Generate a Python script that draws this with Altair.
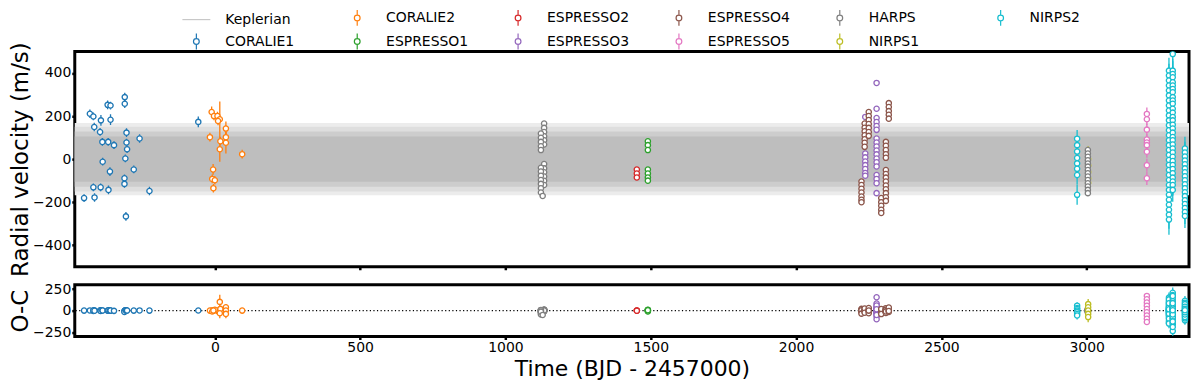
import altair as alt
import pandas as pd

# ---------------- legend / colours ----------------
legend_order = ["Keplerian", "CORALIE2", "ESPRESSO2", "ESPRESSO4", "HARPS", "NIRPS2",
                "CORALIE1", "ESPRESSO1", "ESPRESSO3", "ESPRESSO5", "NIRPS1"]
legend_colors = ["#c8c8c8", "#ff7f0e", "#d62728", "#8c564b", "#7f7f7f", "#17becf",
                 "#1f77b4", "#2ca02c", "#9467bd", "#e377c2", "#bcbd22"]
ERRBAR = "M0,-1L0,-0.36M0,0.36L0,1M0.36,0A0.36,0.36 0 1,1 -0.36,0A0.36,0.36 0 1,1 0.36,0"
LINE = "M-1.75,0L1.75,0"
legend_shapes = [LINE] + [ERRBAR] * 10

# ---------------- Keplerian envelope (band levels, m/s) ----------------
kep_span = [-482, 3352]
kep_levels = ["edge", "outer", "mid", "core"]
kep_half = [168, 150, 128, 105]
kep_shades = ["#ececec", "#dedede", "#cdcdcd", "#bebebe"]

# ---------------- RV data ----------------
CORALIE1_t = [-450, -430, -418, -415, -418, -414, -395, -392, -393, -387, -386, -369, -367, -366,
              -361, -359, -359, -347, -310, -310, -308, -311, -311, -306, -304, -304, -302, -279,
              -259, -225, -57]
CORALIE1_rv = [-181, 211, 198, 149, -131, -178, 126, 180, -131, 80, -12, 252, 80, -143,
               -58, 249, 183, 65, 288, 257, 3, -89, -115, -266, 123, 77, 46, -48,
               96, -148, 173]
CORALIE1_err = [18, 20, 18, 20, 18, 20, 18, 25, 18, 18, 18, 20, 18, 20,
                20, 18, 25, 18, 20, 20, 18, 18, 18, 20, 20, 18, 18, 18,
                20, 20, 25]
CORALIE1_oc = [0, 2, -3, 5, 0, -2, 3, 0, -4, 2, 1, 0, -2, 3,
               -1, 2, 0, -3, 1, 0, 2, -10, -15, 0, 3, -2, 1, 0,
               2, 0, 1]

CORALIE2_t = [-11, -3, 9, 17, 11, -17, 19, 17, 38, 38, 38, -6, -9, 0, -5, 94]
CORALIE2_rv = [219, 200, 200, 185, 177, 102, 83, 46, 142, 102, 76, -48, -92, -98, -135, 23]
CORALIE2_err = [25, 20, 20, 83, 20, 20, 20, 58, 33, 25, 50, 25, 20, 20, 20, 20]
CORALIE2_oc = [0, 5, -5, 101, 0, 0, 20, -30, 38, 0, -38, 0, -10, 10, 0, 0]

HARPS_t = [1133, 1133, 1133, 1133, 1133, 1133, 1122, 1122, 1122, 1122, 1122,
           1133, 1133, 1133, 1133, 1133, 1133, 1122, 1122, 1122, 1122, 1122, 1122, 1122, 1128,
           3004, 3004, 3004, 3004, 3004, 3004, 3004, 3004, 3004, 3004, 3004, 3004, 3004, 3004]
HARPS_rv = [165, 145, 126, 106, 88, 68, 119, 99, 80, 60, 42,
            -23, -43, -61, -81, -101, -120, -40, -58, -77, -97, -115, -135, -155, -171,
            42, 26, 11, -5, -20, -35, -51, -66, -81, -97, -112, -127, -143, -158]
HARPS_err = [3] * 25 + [4] * 14
HARPS_oc = [10, 5, 0, -5, 8, -3, 2, -8, 4, 0, -6,
            12, -4, 6, -10, 3, 0, -15, 8, -20, 5, -30, -45, -12, -50,
            5, -5, 10, -10, 0, 15, -15, 3, -3, 8, -8, 20, -20, 0]

ESPRESSO1_t = [1490, 1490, 1490, 1490, 1490, 1490, 1490]
ESPRESSO1_rv = [83, 65, 42, -48, -67, -85, -100]
ESPRESSO1_err = [2, 2, 2, 2, 2, 2, 2]
ESPRESSO1_oc = [10, 5, 0, -5, 8, -10, 3]

ESPRESSO2_t = [1452, 1452, 1452]
ESPRESSO2_rv = [-48, -67, -85]
ESPRESSO2_err = [2, 2, 2]
ESPRESSO2_oc = [0, 2, -2]

ESPRESSO3_t = [2238] * 8 + [2277] * 18
ESPRESSO3_rv = [196, 26, 8, -11, -28, -46, -65, -77,
                354, 234, 191, 172, 154, 136, 96, 77, 59, 40, 22, 3, -15, -34, -74, -92, -112, -158]
ESPRESSO3_err = [2] * 26
ESPRESSO3_oc = [0, 5, -5, 10, -10, 0, 3, -3,
                155, 81, 48, 20, 0, -20, -37, -66, -99, 10, -10, 30, -30, 5, -5, 60, -50, 15]

ESPRESSO4_t = [2225] * 7 + [2236] * 7 + [2250] * 7 + [2293] * 5 + [2309] * 5 + [2309] * 9 + [2319] * 5
ESPRESSO4_rv = [-104, -120, -138, -155, -174, -189, -200,
                165, 146, 129, 111, 92, 76, 57,
                219, 200, 182, 163, 145, 126, 108,
                -181, -200, -217, -235, -250,
                80, 62, 42, 23, 6,
                -51, -69, -86, -104, -123, -140, -158, -177, -194,
                260, 242, 223, 206, 188]
ESPRESSO4_err = [2] * 45
ESPRESSO4_oc = [0, 10, -10, 20, -20, 5, -35,
                8, -8, 15, -15, 0, 25, -25,
                3, -3, 12, -12, 30, -30, 0,
                -5, 5, -18, 18, -40,
                10, -10, 0, 22, -22,
                6, -6, 14, -14, 0, 28, -28, 9, -9,
                0, 15, -15, 35, -5]

ESPRESSO5_t = [3207] * 9
ESPRESSO5_rv = [210, 185, 137, 91, 77, 65, 34, -28, -89]
ESPRESSO5_err = [30, 28, 28, 25, 25, 25, 28, 30, 31]
ESPRESSO5_oc = [170, 132, 94, 57, 19, -19, -57, -94, -132]

NIRPS1_t = [3005, 3005, 3005, 3005, 3005]
NIRPS1_rv = [0, -30, -60, -90, -110]
NIRPS1_err = [60, 60, 60, 60, 60]
NIRPS1_oc = [75, 38, 0, -38, -75]

NIRPS2_t = ([2967] * 8 + [3283] * 31 + [3296] * 32 + [3338] * 18)
NIRPS2_rv = ([95, 65, 35, 5, -20, -45, -74, -166] +
             [411, 388, 365, 342, 319, 296, 272, 249, 226, 203, 180, 157, 134, 111, 88, 65,
              42, 19, -4, -27, -51, -74, -97, -120, -143, -166, -189, -212, -235, -258, -281] +
             [488, 411, 395, 380, 357, 342, 326, 311, 288, 272, 257, 234, 216, 196, 180, 160,
              142, 123, 103, 88, 68, 49, 31, 11, -9, -27, -46, -66, -86, -104, -120, -143] +
             [49, 31, 12, -6, -24, -43, -61, -80, -98, -117, -135, -154, -172, -191, -209,
              -227, -246, -264])
NIRPS2_err = ([40, 40, 40, 40, 45, 45, 45, 46] +
              [60, 55, 60, 50, 55, 60, 50, 55, 60, 50, 55, 60, 50, 55, 60, 50,
               55, 60, 50, 55, 60, 50, 55, 60, 50, 55, 60, 55, 60, 65, 70] +
              [60, 55, 60, 50, 55, 60, 50, 55, 60, 50, 55, 60, 50, 55, 60, 50,
               55, 60, 50, 55, 60, 50, 55, 60, 50, 55, 60, 50, 55, 60, 50, 55] +
              [55, 50, 55, 50, 55, 50, 55, 50, 55, 50, 55, 50, 55, 50, 55, 50, 55, 56])
NIRPS2_oc = ([57, 30, 19, 0, -10, -19, -40, -57] +
             [150, -120, 95, -60, 40, -30, 20, -10, 5, 0, -5, 10, -20, 30, -40, 60,
              -80, 110, -140, 75, -55, 25, -15, 0, 45, -95, 130, -150, 85, -35, 15] +
             [207, -237, 180, -160, 120, -100, 70, -60, 40, -30, 20, -10, 0, 10, -20, 30,
              -50, 60, -90, 100, -140, 150, -190, 170, -75, 45, -5, 25, -45, 85, -125, 5] +
             [113, -113, 90, -90, 60, -60, 35, -35, 15, -15, 0, 75, -75, 45, -45, 20, -20, 5])

zero_level = [0]

x_ticks = [0, 500, 1000, 1500, 2000, 2500, 3000]
rv_ticks = [-400, -200, 0, 200, 400]
oc_ticks = [-250, 0, 250]
x_domain = [-482, 3352]
rv_domain = [-500, 500]
oc_domain = [-300, 300]

series = {
    "CORALIE1": (CORALIE1_t, CORALIE1_rv, CORALIE1_err, CORALIE1_oc),
    "CORALIE2": (CORALIE2_t, CORALIE2_rv, CORALIE2_err, CORALIE2_oc),
    "ESPRESSO1": (ESPRESSO1_t, ESPRESSO1_rv, ESPRESSO1_err, ESPRESSO1_oc),
    "ESPRESSO2": (ESPRESSO2_t, ESPRESSO2_rv, ESPRESSO2_err, ESPRESSO2_oc),
    "ESPRESSO3": (ESPRESSO3_t, ESPRESSO3_rv, ESPRESSO3_err, ESPRESSO3_oc),
    "ESPRESSO4": (ESPRESSO4_t, ESPRESSO4_rv, ESPRESSO4_err, ESPRESSO4_oc),
    "ESPRESSO5": (ESPRESSO5_t, ESPRESSO5_rv, ESPRESSO5_err, ESPRESSO5_oc),
    "HARPS": (HARPS_t, HARPS_rv, HARPS_err, HARPS_oc),
    "NIRPS1": (NIRPS1_t, NIRPS1_rv, NIRPS1_err, NIRPS1_oc),
    "NIRPS2": (NIRPS2_t, NIRPS2_rv, NIRPS2_err, NIRPS2_oc),
}
top_order = ["CORALIE1", "CORALIE2", "ESPRESSO1", "ESPRESSO2", "ESPRESSO3", "ESPRESSO4",
             "ESPRESSO5", "NIRPS1", "HARPS", "NIRPS2"]
bottom_order = ["CORALIE1", "CORALIE2", "ESPRESSO1", "ESPRESSO2", "ESPRESSO3", "ESPRESSO4",
                "ESPRESSO5", "HARPS", "NIRPS1", "NIRPS2"]


def build(order):
    rows = []
    for name in order:
        t, rv, err, oc = series[name]
        for ti, ri, ei, oi in zip(t, rv, err, oc):
            rows.append(dict(inst=name, t=ti, rv=ri, lo=ri - ei, hi=ri + ei,
                             oc=oi, oclo=oi - ei, ochi=oi + ei))
    return pd.DataFrame(rows)


df_top = build(top_order)
df_bot = build(bottom_order)

band_df = pd.DataFrame({
    "shade": kep_levels,
    "t0": [kep_span[0]] * len(kep_levels),
    "t1": [kep_span[1]] * len(kep_levels),
    "lo": [-h for h in kep_half],
    "hi": kep_half,
})
legend_df = pd.DataFrame({"inst": legend_order, "t": [None] * len(legend_order),
                          "rv": [None] * len(legend_order)})
zero_df = pd.DataFrame({"v": zero_level})

# ---------------- scales / axes ----------------
FONT = "DejaVu Sans"
LEG = alt.Legend(title=None)
cscale = alt.Scale(domain=legend_order, range=legend_colors)
xs = alt.Scale(domain=x_domain, nice=False, zero=False)
ys_top = alt.Scale(domain=rv_domain, nice=False)
ys_bot = alt.Scale(domain=oc_domain, nice=False)

x_top_axis = alt.Axis(values=x_ticks, labels=False, title=None, ticks=True)
x_bot_axis = alt.Axis(values=x_ticks, format="d", title="Time (BJD - 2457000)", titlePadding=4)
y_top_axis = alt.Axis(values=rv_ticks, title="Radial velocity (m/s)", format="d", titleFontSize=23)
y_bot_axis = alt.Axis(values=oc_ticks, title="O-C", format="d", titleFontSize=23)

XT = alt.X("t:Q", scale=xs, axis=x_top_axis)
XB = alt.X("t:Q", scale=xs, axis=x_bot_axis)
COL = alt.Color("inst:N", scale=cscale, legend=LEG)
PT_SIZE = 28

band = alt.Chart(band_df).mark_rect().encode(
    x=alt.X("t0:Q", scale=xs, axis=x_top_axis), x2="t1:Q",
    y=alt.Y("lo:Q", scale=ys_top, axis=y_top_axis), y2="hi:Q",
    fill=alt.Fill("shade:N", scale=alt.Scale(domain=kep_levels, range=kep_shades), legend=None),
)

bars_top = alt.Chart(df_top).mark_rule(strokeWidth=1.3, clip=True).encode(
    x=XT, y=alt.Y("lo:Q", scale=ys_top, axis=y_top_axis), y2="hi:Q", color=COL)

pts_top = alt.Chart(df_top).mark_point(filled=False, fill="white", size=PT_SIZE, strokeWidth=1.3,
                                       opacity=1, clip=True).encode(
    x=XT, y=alt.Y("rv:Q", scale=ys_top, axis=y_top_axis), color=COL)

legend_layer = alt.Chart(legend_df).mark_point(filled=False, strokeWidth=1.2, opacity=1).encode(
    x=XT, y=alt.Y("rv:Q", scale=ys_top, axis=y_top_axis),
    color=COL,
    shape=alt.Shape("inst:N", scale=alt.Scale(domain=legend_order, range=legend_shapes),
                    legend=LEG),
)

top = alt.layer(band, bars_top, pts_top, legend_layer).properties(width=1118, height=216)

zero = alt.Chart(zero_df).mark_rule(color="black", strokeWidth=1.2, strokeDash=[1.2, 2.4]).encode(
    y=alt.Y("v:Q", scale=ys_bot, axis=y_bot_axis))

bars_bot = alt.Chart(df_bot).mark_rule(strokeWidth=1.3, clip=True).encode(
    x=XB, y=alt.Y("oclo:Q", scale=ys_bot, axis=y_bot_axis), y2="ochi:Q", color=COL)

pts_bot = alt.Chart(df_bot).mark_point(filled=False, fill="white", size=PT_SIZE, strokeWidth=1.3,
                                       opacity=1, clip=True).encode(
    x=XB, y=alt.Y("oc:Q", scale=ys_bot, axis=y_bot_axis), color=COL)

bottom = alt.layer(zero, bars_bot, pts_bot).properties(width=1118, height=52)

chart = alt.vconcat(top, bottom, spacing=1).properties(
    padding={"left": 0, "top": 0, "right": 0, "bottom": 0}
).configure_view(
    stroke="black", strokeWidth=3
).configure_axis(
    domain=False, grid=False, labelFont=FONT, labelFontSize=14, labelColor="black",
    tickColor="black", tickWidth=2.5, tickSize=3, labelPadding=1,
    titleFont=FONT, titleFontSize=22, titleFontWeight="normal", titleColor="black",
    titlePadding=0,
).configure_legend(
    orient="none", legendX=113, legendY=-43, direction="horizontal", columns=6,
    gridAlign="all", columnPadding=40.4, rowPadding=2, labelFont=FONT, labelFontSize=14,
    labelColor="black", symbolSize=256, symbolStrokeWidth=1.2, labelOffset=20, padding=0,
)

chart.save("out.html", embed_options={"renderer": "svg", "actions": False})
